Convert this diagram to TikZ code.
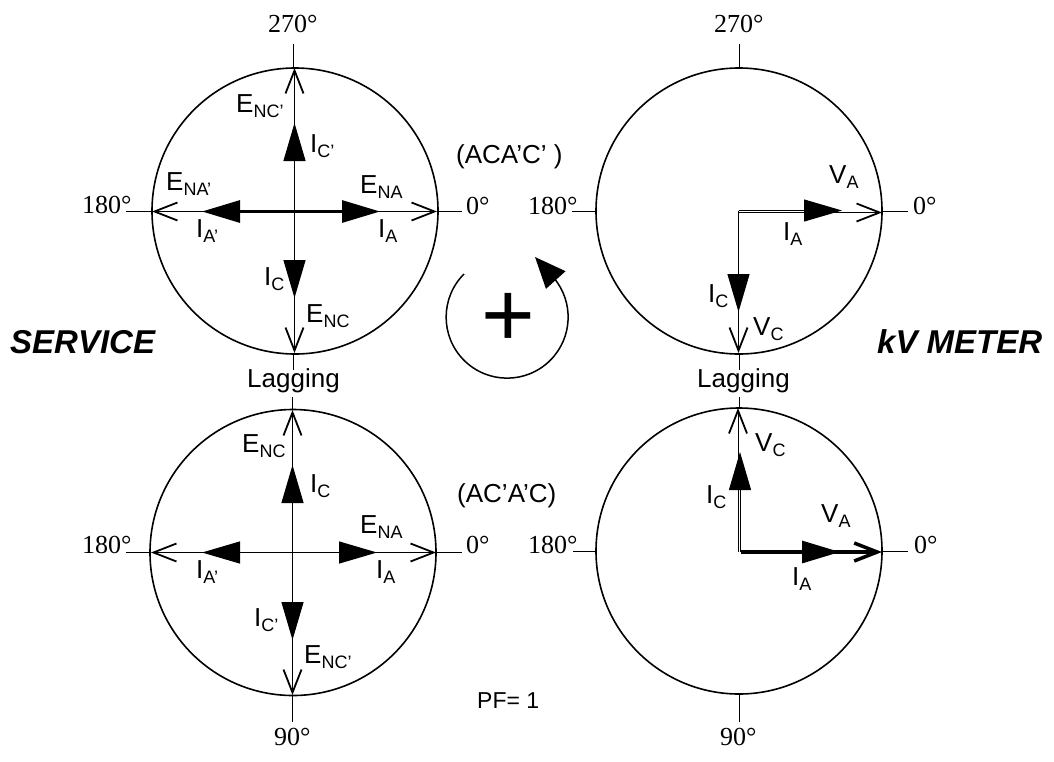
\documentclass[tikz,border=0pt]{standalone}
\usepackage{fontspec}
\setmainfont{Liberation Sans}
\newfontfamily\serfam{Liberation Serif}
\usetikzlibrary{arrows.meta}
\newcommand{\lbl}[2]{#1\raisebox{-5pt}{\fontsize{18}{18}\selectfont #2}}
\tikzset{
  x=1pt,y=-1pt,
  dial/.style={circle,draw,line width=1.6pt,minimum size=286pt,inner sep=0pt},
  tick/.style={line width=1.4pt},
  sans/.style={anchor=base west,inner sep=0pt,font=\fontsize{26}{26}\selectfont},
  ser/.style={anchor=base west,inner sep=0pt,font=\serfam\fontsize{26}{26}\selectfont},
  head/.style={anchor=base west,inner sep=0pt,font=\bfseries\itshape\fontsize{33}{33}\selectfont},
  evec/.style={line width=1.2pt,-{Straight Barb[length=23pt,width=18pt,line width=1.8pt]}},
  ivec/.style={line width=1.2pt,-{Triangle[length=38pt,width=22pt]}},
  thickvec/.style={line width=3pt,-{Triangle[length=38pt,width=22pt]}},
  thickev/.style={line width=3.5pt,-{Straight Barb[length=23pt,width=18pt,line width=3.5pt]}},
}
\begin{document}
\begin{tikzpicture}
\useasboundingbox (0,0) rectangle (1054,761);
% dials
\node[dial] (C1) at (295,211) {};
\node[dial] (C2) at (739,211) {};
\node[dial] (C3) at (293,552.5) {};
\node[dial] (C4) at (739,551) {};
% tick ends
\coordinate (t1n) at (293.5,44); \coordinate (t1w) at (126,211.5); \coordinate (t1e) at (462,211.5); \coordinate (t1s) at (293.5,370);
\coordinate (t2n) at (739.5,44); \coordinate (t2w) at (572,211.5); \coordinate (t2e) at (908,211.5); \coordinate (t2s) at (739.5,370);
\coordinate (t3n) at (292.5,397); \coordinate (t3w) at (126,552.5); \coordinate (t3e) at (462,552.5); \coordinate (t3s) at (292.5,722);
\coordinate (t4n) at (739.5,397); \coordinate (t4w) at (573,551.5); \coordinate (t4e) at (908,551.5); \coordinate (t4s) at (739.5,722);
\foreach \c/\k in {C1/1,C2/2,C3/3,C4/4}{
  \draw[tick] (t\k n |- \c.north) -- (t\k n);
  \draw[tick] (\c.west |- t\k w) -- (t\k w);
  \draw[tick] (\c.east |- t\k e) -- (t\k e);
  \draw[tick] (t\k s |- \c.south) -- (t\k s);
}
% upper-left phasors
\coordinate (O1) at (294.5,211.5);
\coordinate (E1n) at (294.5,68); \coordinate (E1w) at (152,211.5); \coordinate (E1e) at (437,211.5); \coordinate (E1s) at (294.5,353);
\coordinate (I1n) at (294.5,123); \coordinate (I1w) at (202,211.5); \coordinate (I1e) at (380,211.5); \coordinate (I1s) at (294.5,298);
\draw[evec] (O1) -- (E1n); \draw[evec] (O1) -- (E1w); \draw[evec] (O1) -- (E1e); \draw[evec] (O1) -- (E1s);
\draw[ivec] (O1) -- (I1n); \draw[ivec] (O1) -- (I1s);
\draw[thickvec] (O1) -- (I1w); \draw[thickvec] (O1) -- (I1e);
% lower-left phasors
\coordinate (O3) at (292.5,552.5);
\coordinate (E3n) at (292.5,410); \coordinate (E3w) at (151,552.5); \coordinate (E3e) at (436,552.5); \coordinate (E3s) at (292.5,695);
\coordinate (I3n) at (292.5,465); \coordinate (I3w) at (202,552.5); \coordinate (I3e) at (377,552.5); \coordinate (I3s) at (292.5,640);
\foreach \p in {E3n,E3w,E3e,E3s}{\draw[evec] (O3) -- (\p);}
\foreach \p in {I3n,I3w,I3e,I3s}{\draw[ivec] (O3) -- (\p);}
% upper-right phasors
\coordinate (O2a) at (738.5,210.5); \coordinate (O2b) at (738.5,212.5);
\coordinate (E2e) at (882,212.5); \coordinate (I2e) at (842,210.5);
\coordinate (E2s) at (738.5,353); \coordinate (I2s) at (738.5,312);
\draw[evec,line width=1pt] (O2b) -- (E2e);
\draw[ivec,line width=1pt] (O2a) -- (I2e);
\draw[evec] (O2a) -- (E2s);
\draw[ivec] (O2a) -- (I2s);
% lower-right phasors
\coordinate (O4a) at (738,551.5); \coordinate (O4b) at (740,551.5); \coordinate (O4c) at (741,552);
\coordinate (E4n) at (738,408); \coordinate (I4n) at (740,452);
\coordinate (E4e) at (882,552); \coordinate (I4e) at (840,552);
\draw[evec,line width=1pt] (O4a) -- (E4n);
\draw[ivec,line width=1pt] (O4b) -- (I4n);
\draw[thickev] (O4c) -- (E4e);
\draw[thickvec] (O4c) -- (I4e);
% rotation sense
\coordinate (R0) at (464,274);
\coordinate (R1) at (535,257);
\draw[line width=1.5pt,-{Triangle[length=31pt,width=26pt]}] (R0) arc[start angle=225,end angle=-40,radius=61] -- (R1);
\node[anchor=center,inner sep=0pt,font=\fontsize{92}{92}\selectfont] (plus) at (508,320) {+};
% serif scale labels
\node[ser] (d1n) at (268,32) {270°};
\node[ser] (d1w) at (82,213) {180°};
\node[ser] (d1e) at (466,214) {0°};
\node[ser] (d2n) at (714,32) {270°};
\node[ser] (d2w) at (528,214) {180°};
\node[ser] (d2e) at (913,214) {0°};
\node[ser] (d3w) at (82,553) {180°};
\node[ser] (d3e) at (466,553) {0°};
\node[ser] (d3s) at (274,745) {90°};
\node[ser] (d4w) at (528,553) {180°};
\node[ser] (d4e) at (914,553) {0°};
\node[ser] (d4s) at (720,745) {90°};
% upper-left labels
\node[sans] (a1) at (236,112) {\lbl{E}{NC'}};
\node[sans] (a2) at (310,152) {\lbl{I}{C'}};
\node[sans] (a3) at (360,193) {\lbl{E}{NA}};
\node[sans] (a4) at (166,190) {\lbl{E}{NA'}};
\node[sans] (a5) at (196,237) {\lbl{I}{A'}};
\node[sans] (a6) at (378,237) {\lbl{I}{A}};
\node[sans] (a7) at (264,285) {\lbl{I}{C}};
\node[sans] (a8) at (306,322) {\lbl{E}{NC}};
\node[sans] (a9) at (456,163) {(ACA'C' )};
% lower-left labels
\node[sans] (b1) at (242,452) {\lbl{E}{NC}};
\node[sans] (b2) at (310,492) {\lbl{I}{C}};
\node[sans] (b3) at (360,533) {\lbl{E}{NA}};
\node[sans] (b5) at (196,578) {\lbl{I}{A'}};
\node[sans] (b6) at (376,578) {\lbl{I}{A}};
\node[sans] (b7) at (254,626) {\lbl{I}{C'}};
\node[sans] (b8) at (304,663) {\lbl{E}{NC'}};
\node[sans] (b9) at (457,502) {(AC'A'C)};
\node[sans,font=\fontsize{23}{23}\selectfont] (pf) at (477,708) {PF= 1};
% upper-right labels
\node[sans] (c1) at (829,183) {\lbl{V}{A}};
\node[sans] (c2) at (783,240) {\lbl{I}{A}};
\node[sans] (c3) at (708,302) {\lbl{I}{C}};
\node[sans] (c4) at (753,335) {\lbl{V}{C}};
% lower-right labels
\node[sans] (e1) at (755,451) {\lbl{V}{C}};
\node[sans] (e2) at (706,503) {\lbl{I}{C}};
\node[sans] (e3) at (821,522) {\lbl{V}{A}};
\node[sans] (e4) at (792,585) {\lbl{I}{A}};
% headings
\node[sans] (lag1) at (247,387) {Lagging};
\node[sans] (lag2) at (697,387) {Lagging};
\node[head] (svc) at (10,353) {SERVICE};
\node[head] (kv) at (877,353) {kV METER};
\end{tikzpicture}
\end{document}
